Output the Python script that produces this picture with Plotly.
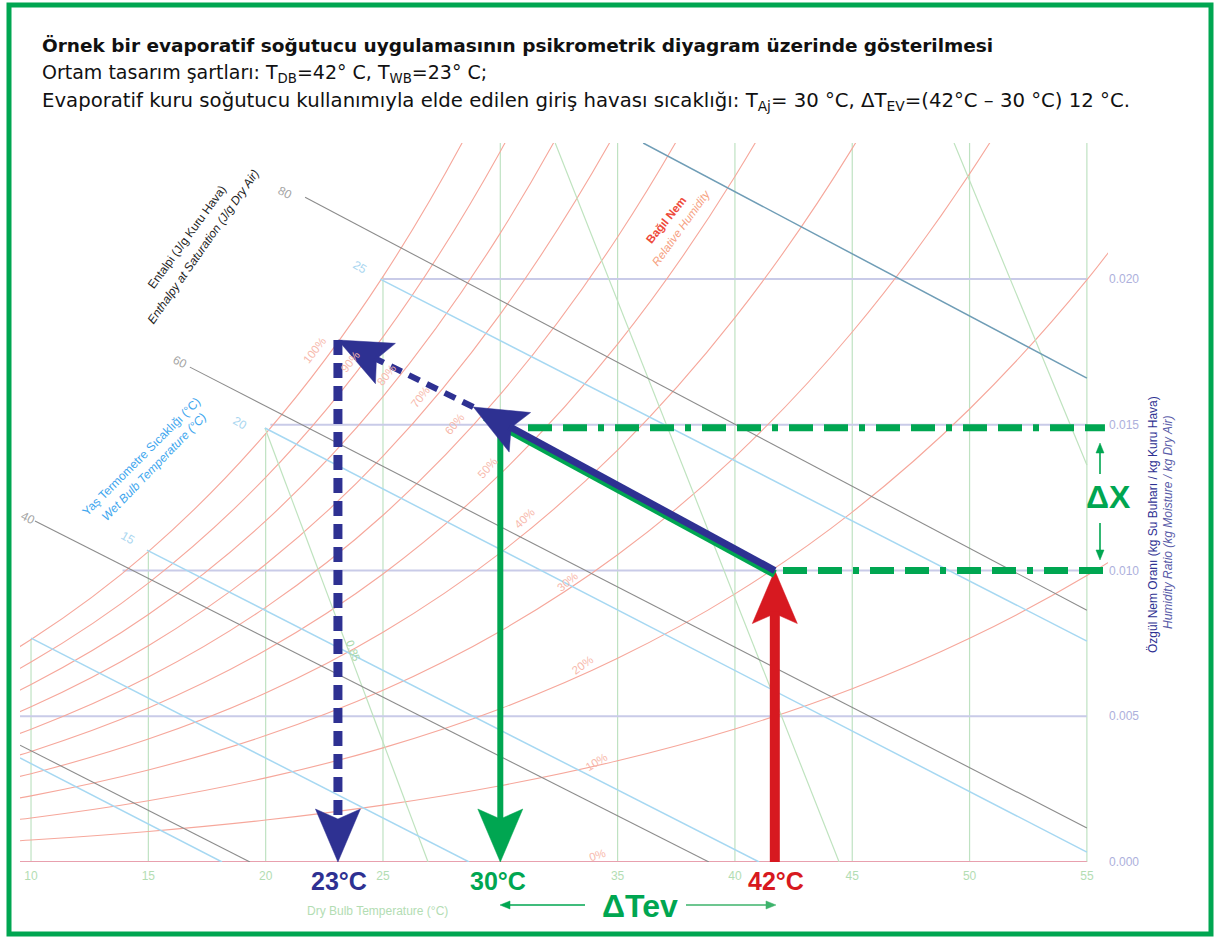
import math
import plotly.graph_objects as go

# ---------------- data ----------------
# saturation pressure table (kPa) used to draw the relative humidity curves
sat_T = [5, 10, 15, 20, 25, 30, 35, 40, 45, 50, 55, 60]
sat_p_kPa = [0.8726, 1.2282, 1.7058, 2.3392, 3.1697, 4.2467, 5.6286, 7.3844,
             9.5944, 12.351, 15.761, 19.946]
rh_levels = [10, 20, 30, 40, 50, 60, 70, 80, 90, 100]
P_atm = 101.325

# dry bulb grid lines (vertical)
db_grid_T = [10, 15, 20, 25, 30, 35, 40, 45, 50, 55]
x_ticks = [10, 15, 20, 25, 30, 35, 40, 45, 50, 55]
x_tick_text = ["10", "15", "20", "25", "", "35", "40", "45", "50", "55"]  # "30" hidden under the 30°C label

# humidity ratio grid lines (horizontal) and where they start (saturation)
w_grid = [0.005, 0.010, 0.015, 0.020]
w_grid_start_T = [9.0, 13.9, 20.2, 25.0]
y_ticks = [0.000, 0.005, 0.010, 0.015, 0.020]
y_tick_text = ["0.000", "0.005", "0.010", "0.015", "0.020"]

# enthalpy lines (J/g): end points (T, W)
h_vals = [20, 40, 60, 80]
h_T0 = [9.53, 10.17, 16.77, 21.68]
h_W0 = [0.00401, 0.0117, 0.01698, 0.02281]
h_T1 = [19.33, 38.89, 55.0, 55.0]
h_W1 = [0.0, 0.0, 0.00117, 0.00864]
h_label_T = [None, 9.87, 16.35, 20.83]
h_label_W = [None, 0.0118, 0.01715, 0.02295]

# wet bulb lines (°C): end points
wb_vals = [5, 10, 15, 20, 25, 30]
wb_T0 = [9.53, 10.0, 14.94, 19.97, 24.88, 36.09]
wb_W0 = [0.00357, 0.00768, 0.0107, 0.01489, 0.0200, 0.02467]
wb_T1 = [18.14, 28.67, 41.03, 55.0, 55.0, 55.0]
wb_W1 = [0.0, 0.0, 0.0, 0.00034, 0.00758, 0.0166]
wb_label_vals = ["15", "20", "25"]
wb_label_T = [14.13, 18.9, 24.0]
wb_label_W = [0.01111, 0.01506, 0.02041]

# specific volume lines (m3/kg): end points
v_vals = [0.85, 0.90, 0.95]
v_T0 = [19.97, 32.34, 49.34]
v_W0 = [0.01489, 0.02467, 0.02467]
v_T1 = [26.92, 44.44, 55.0]
v_W1 = [0.0, 0.0, 0.01362]

# relative humidity labels
rh_label_text = ["100%", "90%", "80%", "70%", "60%", "50%", "40%", "30%", "20%", "10%", "0%"]
rh_label_T = [22.1, 23.6, 25.15, 26.6, 28.05, 29.45, 31.05, 32.85, 33.5, 34.1, 34.15]
rh_label_W = [0.01756, 0.01715, 0.01671, 0.01595, 0.01503, 0.01352, 0.0118, 0.00961, 0.00676, 0.00343, 0.00024]
rh_label_angle = [-52, -52, -52, -52, -50, -48, -44, -40, -36, -32, -18]

# process (evaporative cooling) points
T_ambient, W_ambient = 41.7, 0.0100          # T_DB = 42 °C
T_supply, W_supply = 30.0, 0.0149            # T_Aj = 30 °C
T_wetbulb, W_wetbulb = 23.08, 0.01791        # T_WB = 23 °C (saturation)
T_tip, W_tip = 28.85, 0.01561                # end of process arrow
T_axis_end = 55.77                           # end of ΔX dash-dot guides

# ---------------- geometry helpers ----------------
PL, PR, PT, PB = 20, 1108, 143, 862
X_RANGE = [9.53, 55.9]
Y_RANGE = [0.0, 0.02467]
KX = (X_RANGE[1] - X_RANGE[0]) / (PR - PL)
KY = (Y_RANGE[1] - Y_RANGE[0]) / (PB - PT)


def px_T(px):
    return X_RANGE[0] + (px - PL) * KX


def py_W(py):
    return Y_RANGE[0] + (PB - py) * KY


def pxp(px):
    return (px - PL) / (PR - PL)


def pyp(py):
    return (PB - py) / (PB - PT)


def w_from(phi, p):
    return 0.622 * phi * p / (P_atm - phi * p)


sat_W = [w_from(1.0, p) for p in sat_p_kPa]

C_RH = "#f6a79b"
C_DB = "#bfe2c2"
C_W = "#c9cbe8"
C_H = "#8c8c8c"
C_WB = "#a6d8f2"
C_WB30 = "#6f9db6"
C_V = "#bfe3bf"
GREEN = "#00a651"
NAVY = "#2e3192"
RED = "#d71920"

fig = go.Figure()
shapes = []


def line(x, y, color, width, dash=None, shape="linear"):
    fig.add_trace(go.Scatter(x=x, y=y, mode="lines", hoverinfo="skip",
                             line=dict(color=color, width=width, dash=dash, shape=shape),
                             showlegend=False))


def head(tipT, tipW, tailT, tailW, color, L=53, wd=45, notch=10):
    """Filled arrow head at (tipT, tipW) pointing away from the tail; returns notch point."""
    dx = (tipT - tailT) / KX
    dy = (tipW - tailW) / KY
    n = math.hypot(dx, dy)
    ux, uy = dx / n, dy / n
    nx, ny = -uy, ux
    offs = [(0, 0),
            (-L * ux + wd / 2 * nx, -L * uy + wd / 2 * ny),
            (-(L - notch) * ux, -(L - notch) * uy),
            (-L * ux - wd / 2 * nx, -L * uy - wd / 2 * ny),
            (0, 0)]
    xs = [tipT + ox * KX for ox, oy in offs]
    ys = [tipW + oy * KY for ox, oy in offs]
    fig.add_trace(go.Scatter(x=xs, y=ys, mode="lines", fill="toself", fillcolor=color,
                             line=dict(color=color, width=0.5), hoverinfo="skip",
                             showlegend=False))
    back = L - notch - 2
    return tipT - back * ux * KX, tipW - back * uy * KY


def thin_arrow(x0, y0, x1, y1, color):
    """Thin arrow drawn in pixel space (paper coords) from (x0,y0) to tip (x1,y1)."""
    dx, dy = x1 - x0, y1 - y0
    n = math.hypot(dx, dy)
    ux, uy = dx / n, dy / n
    nx, ny = -uy, ux
    L, wd = 10, 8
    bx, by = x1 - (L - 2) * ux, y1 - (L - 2) * uy
    shapes.append(dict(type="line", xref="paper", yref="paper",
                       x0=pxp(x0), y0=pyp(y0), x1=pxp(bx), y1=pyp(by),
                       line=dict(color=color, width=1.6)))
    pts = [(x1, y1),
           (x1 - L * ux + wd / 2 * nx, y1 - L * uy + wd / 2 * ny),
           (x1 - L * ux - wd / 2 * nx, y1 - L * uy - wd / 2 * ny)]
    path = "M{:.5f},{:.5f} L{:.5f},{:.5f} L{:.5f},{:.5f} Z".format(
        pxp(pts[0][0]), pyp(pts[0][1]), pxp(pts[1][0]), pyp(pts[1][1]),
        pxp(pts[2][0]), pyp(pts[2][1]))
    shapes.append(dict(type="path", xref="paper", yref="paper", path=path,
                       fillcolor=color, line=dict(color=color, width=0.5)))


# vertical dry-bulb grid lines up to saturation
for t in db_grid_T:
    top = sat_W[sat_T.index(t)] if t in sat_T else Y_RANGE[1]
    line([t, t], [0, top], C_DB, 1.2)

# horizontal humidity grid lines
for w, t0 in zip(w_grid, w_grid_start_T):
    line([t0, 55.0], [w, w], C_W, 2)

# relative humidity curves
for rh in rh_levels:
    ws = [w_from(rh / 100.0, p) for p in sat_p_kPa]
    line(sat_T, ws, C_RH, 1.1, shape="spline")

# 0 % line
line([X_RANGE[0], 55.0], [0, 0], "#e8a0ae", 2)

# specific volume lines
for i in range(len(v_vals)):
    line([v_T0[i], v_T1[i]], [v_W0[i], v_W1[i]], C_V, 1.2)

# wet bulb lines
for i in range(len(wb_vals)):
    c = C_WB30 if wb_vals[i] == 30 else C_WB
    line([wb_T0[i], wb_T1[i]], [wb_W0[i], wb_W1[i]], c, 1.5)

# enthalpy lines
for i in range(len(h_vals)):
    line([h_T0[i], h_T1[i]], [h_W0[i], h_W1[i]], C_H, 1.1)

# ---- process drawing ----
# dash-dot ΔX guides
dd = "24px,11px,24px,11px,6px,11px"
line([px_T(528), T_axis_end], [W_supply, W_supply], GREEN, 7, dash=dd)
line([px_T(783), T_axis_end], [W_ambient, W_ambient], GREEN, 7, dash=dd)

# green vertical arrow (supply temperature)
gx, gy = head(T_supply, 0, T_supply, W_supply, GREEN)
line([T_supply, T_supply], [W_supply, gy], GREEN, 6)

# navy dashed lines
nx1, ny1 = head(T_wetbulb, W_wetbulb, T_tip, W_tip, NAVY)
line([T_tip, nx1], [W_tip, ny1], NAVY, 6, dash="12px,8px")
nx2, ny2 = head(T_wetbulb, 0, T_wetbulb, W_wetbulb, NAVY)
line([T_wetbulb, T_wetbulb], [W_wetbulb, ny2], NAVY, 9, dash="15px,8px")

# red arrow (ambient)
rx, ry = head(T_ambient, W_ambient, T_ambient, 0, RED)
line([T_ambient, T_ambient], [0, ry], RED, 10)

# green strip under the navy process line, then navy process arrow
off = 0.00012
line([T_ambient, T_tip + 0.5], [W_ambient - off, W_tip - off - 0.5 * (W_tip - W_ambient) / (T_ambient - T_tip)],
     GREEN, 8)
px_, py_ = head(T_tip, W_tip, T_ambient, W_ambient, NAVY)
line([T_ambient, px_], [W_ambient, py_], NAVY, 7)

# ΔX arrows
thin_arrow(1100, 474, 1100, 443, GREEN)
thin_arrow(1100, 523, 1100, 560, GREEN)
# ΔTev arrows
thin_arrow(585, 905, 500, 905, GREEN)
thin_arrow(686, 905, 776, 905, "#3db36b")

ann = []


def text(x, y, s, color, size, angle=0, bold=False, family="Liberation Sans, Arial, sans-serif",
         xref="x", yref="y", xanchor="center"):
    if bold:
        s = "<b>" + s + "</b>"
    ann.append(dict(x=x, y=y, xref=xref, yref=yref, text=s, showarrow=False,
                    textangle=angle, xanchor=xanchor, yanchor="middle",
                    font=dict(color=color, size=size, family=family)))


def ptext(xp, yp, s, color, size, **kw):
    text(pxp(xp), pyp(yp), s, color, size, xref="paper", yref="paper", **kw)


NARROW = "Liberation Sans Narrow, Arial Narrow, Liberation Sans, sans-serif"
ptext(339, 881, "23°C", NAVY, 25, bold=True, family=NARROW)
ptext(498, 881, "30°C", GREEN, 25, bold=True, family=NARROW)
ptext(776, 881, "42°C", RED, 25, bold=True, family=NARROW)
ptext(640, 906, "ΔTev", GREEN, 32, bold=True, family=NARROW)
ptext(1108, 497, "ΔX", GREEN, 32, bold=True, family=NARROW)

# chart labels
for t, w, v in zip(h_label_T, h_label_W, h_vals):
    if t is not None:
        text(t, w, str(v), "#a4a4a4", 12, angle=27)
for t, w, v in zip(wb_label_T, wb_label_W, wb_label_vals):
    text(t, w, v, "#a9d6f0", 12, angle=30)
for t, w, s, a in zip(rh_label_T, rh_label_W, rh_label_text, rh_label_angle):
    text(t, w, s, "#f7b9ac", 11.5, angle=a)
text(px_T(353), py_W(650), "0.85", "#a9d8a9", 11, angle=69)

text(px_T(187), py_W(237), "Entalpi (J/g Kuru Hava)", "#1e1e1e", 12, angle=-54)
text(px_T(203), py_W(247), "<i>Enthalpy at Saturation (J/g Dry Air)</i>", "#1e1e1e", 12, angle=-55)
text(px_T(141), py_W(457), "Yaş Termometre Sıcaklığı (°C)", "#3ea6ee", 12, angle=-45)
text(px_T(154), py_W(467), "<i>Wet Bulb Temperature (°C)</i>", "#3ea6ee", 12, angle=-46)
text(px_T(666), py_W(220), "Bağıl Nem", "#ee4a3a", 11.5, angle=-51, bold=True)
text(px_T(681), py_W(228), "<i>Relative Humidity</i>", "#f6a080", 11.5, angle=-54)

ptext(377, 911, "Dry Bulb Temperature (°C)", "#b3ddb3", 12)
ptext(1153, 525, "Özgül Nem Oranı (kg Su Buharı / kg Kuru Hava)", NAVY, 12, angle=-90)
ptext(1168, 522, "<i>Humidity Ratio (kg Moisture / kg Dry Air)</i>", "#5a5ca8", 12, angle=-90)

# title lines
TF = "DejaVu Sans, Verdana, sans-serif"
ptext(40, 46, "Örnek bir evaporatif soğutucu uygulamasının psikrometrik diyagram üzerinde gösterilmesi",
      "#111111", 18.5, bold=True, family=TF, xanchor="left")
ptext(40, 74, "Ortam tasarım şartları: T<sub>DB</sub>=42° C, T<sub>WB</sub>=23° C;",
      "#111111", 19, family=TF, xanchor="left")
ptext(40, 102,
      "Evaporatif kuru soğutucu kullanımıyla elde edilen giriş havası sıcaklığı: T<sub>Aj</sub>= 30 °C, "
      "ΔT<sub>EV</sub>=(42°C – 30 °C) 12 °C.",
      "#111111", 19.7, family=TF, xanchor="left")

shapes.append(dict(type="rect", xref="paper", yref="paper",
                   x0=pxp(9), x1=pxp(1211), y0=pyp(934), y1=pyp(5),
                   line=dict(color=GREEN, width=5), fillcolor="rgba(0,0,0,0)", layer="above"))

fig.update_layout(
    width=1218, height=939, autosize=False,
    margin=dict(l=PL, r=1218 - PR, t=PT, b=939 - PB, pad=0),
    paper_bgcolor="white", plot_bgcolor="white",
    showlegend=False,
    annotations=ann, shapes=shapes,
    xaxis=dict(range=X_RANGE, tickvals=x_ticks, ticktext=x_tick_text,
               showgrid=False, zeroline=False, showline=False, ticks="",
               tickfont=dict(color="#b3ddb3", size=12, family="Liberation Sans, Arial, sans-serif"),
               ticklabelstandoff=5, automargin=False, fixedrange=True),
    yaxis=dict(range=Y_RANGE, side="right", tickvals=y_ticks, ticktext=y_tick_text,
               showgrid=False, zeroline=False, showline=False, ticks="",
               tickfont=dict(color="#adb0dc", size=12, family="Liberation Sans, Arial, sans-serif"),
               ticklabelstandoff=0, automargin=False, fixedrange=True),
)

fig.write_html("out.html")
